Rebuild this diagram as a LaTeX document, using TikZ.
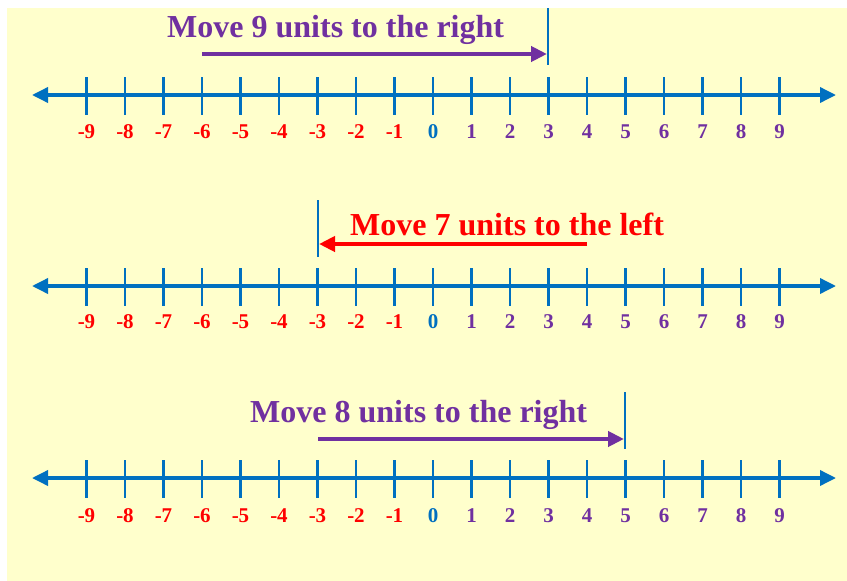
\documentclass[tikz,border=0pt]{standalone}
\usepackage{fontspec}
\setmainfont{Liberation Serif}
\usetikzlibrary{arrows.meta}
\definecolor{bgy}{HTML}{FFFFCC}
\definecolor{axisblue}{HTML}{0070C0}
\definecolor{numred}{HTML}{FF0000}
\definecolor{numpurple}{HTML}{7030A0}
\tikzset{
  axisline/.style={axisblue, line width=3.5pt, {Triangle[length=16pt,width=15pt]}-{Triangle[length=16pt,width=15pt]}},
  tickmark/.style={axisblue, line width=2.6pt},
  marker/.style={axisblue, line width=2.4pt},
  movearrow/.style={line width=4.5pt, -{Triangle[length=16pt,width=15pt]}},
  numlbl/.style={font=\fontsize{21pt}{23pt}\selectfont\bfseries, inner sep=0pt},
  movelbl/.style={font=\fontsize{32pt}{35pt}\selectfont\bfseries, inner sep=0pt, anchor=base west},
}
\begin{document}
\begin{tikzpicture}[x=1pt,y=-1pt]
\useasboundingbox (0,0) rectangle (847,581);
\fill[bgy] (7,8) rectangle (847,581);
\foreach \row/\yy/\ly in {a/95/132, b/286/322, c/478/516}{
  \coordinate (\row L) at (32,\yy);
  \coordinate (\row R) at (836,\yy);
  \draw[axisline] (\row L) -- (\row R);
  \foreach \n in {-9,...,9}{
    \pgfmathsetmacro{\xx}{433+38.5*\n}
    \draw[tickmark] (\xx,\yy-18) -- (\xx,\yy+20);
    \ifnum\n<0
      \node[numlbl, text=numred] (\row n\n) at (\xx,\ly) {\n};
    \else\ifnum\n=0
      \node[numlbl, text=axisblue] (\row n\n) at (\xx,\ly) {\n};
    \else
      \node[numlbl, text=numpurple] (\row n\n) at (\xx,\ly) {\n};
    \fi\fi
  }
}
% Move 1
\node[movelbl, text=numpurple] (t1) at (167,37) {Move 9 units to the right};
\coordinate (m1s) at (202,54);
\coordinate (m1e) at (547,54);
\coordinate (v1a) at (548,8);
\coordinate (v1b) at (548,65);
\draw[marker] (v1a) -- (v1b);
\draw[movearrow, numpurple] (m1s) -- (m1e);
% Move 2
\node[movelbl, text=numred] (t2) at (350,235) {Move 7 units to the left};
\coordinate (m2s) at (587,244);
\coordinate (m2e) at (319,244);
\coordinate (v2a) at (318,200);
\coordinate (v2b) at (318,257);
\draw[marker] (v2a) -- (v2b);
\draw[movearrow, numred] (m2s) -- (m2e);
% Move 3
\node[movelbl, text=numpurple] (t3) at (250,422) {Move 8 units to the right};
\coordinate (m3s) at (318,439);
\coordinate (m3e) at (624,439);
\coordinate (v3a) at (625,392);
\coordinate (v3b) at (625,449);
\draw[marker] (v3a) -- (v3b);
\draw[movearrow, numpurple] (m3s) -- (m3e);
\end{tikzpicture}
\end{document}
